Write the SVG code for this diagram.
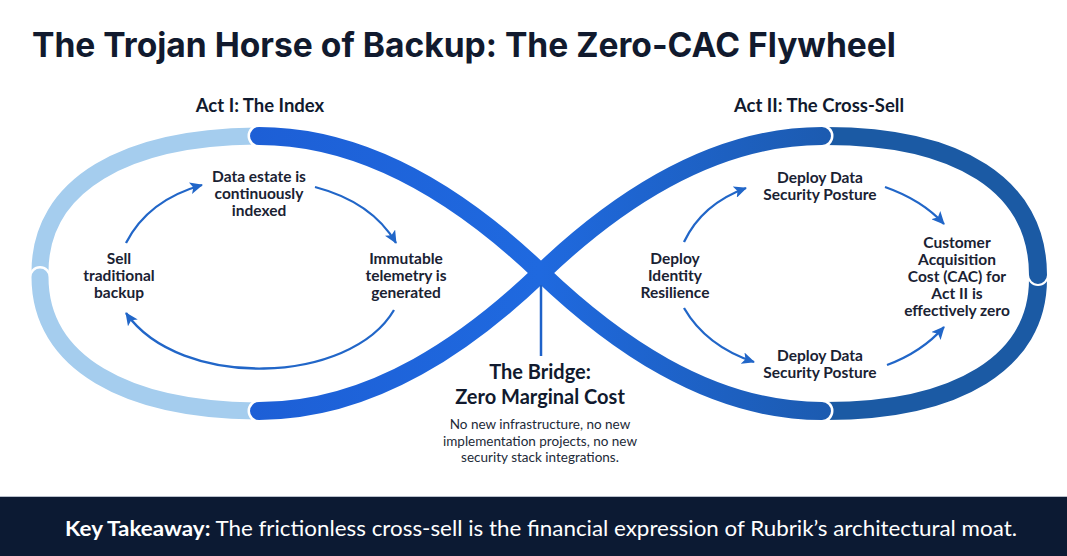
<svg xmlns="http://www.w3.org/2000/svg" width="1067" height="556" viewBox="0 0 1067 556">
<defs>
<style>
.title{font-family:Inter,"Liberation Sans",sans-serif;font-weight:700;font-size:33.6px;fill:#111a2e}
.act{font-family:Lato,"Liberation Sans",sans-serif;font-weight:700;font-size:18.5px;fill:#111a2e;text-anchor:middle}
.lbl{font-family:Lato,"Liberation Sans",sans-serif;font-weight:700;font-size:15.5px;fill:#1a2233;text-anchor:middle}
.bridge{font-family:Lato,"Liberation Sans",sans-serif;font-weight:700;font-size:20px;fill:#111a2e;text-anchor:middle}
.small{font-family:Lato,"Liberation Sans",sans-serif;font-size:13.5px;fill:#222a38;text-anchor:middle}
.foot{font-family:Lato,"Liberation Sans",sans-serif;font-size:21.5px;fill:#ffffff;text-anchor:middle}
.arr{fill:none;stroke:#2166c8;stroke-width:2.3;marker-end:url(#ah)}
.light{fill:none;stroke:#a5cdee;stroke-width:17}
.right{fill:none;stroke:#1b5aa4;stroke-width:18}
.main{fill:none;stroke:url(#g);stroke-width:18;stroke-linecap:round}
</style>
<linearGradient id="g" gradientUnits="userSpaceOnUse" x1="250" y1="0" x2="830" y2="0">
<stop offset="0" stop-color="#1d5fd6"/>
<stop offset="0.5" stop-color="#1f69df"/>
<stop offset="1" stop-color="#1c5bb0"/>
</linearGradient>
<marker id="ah" markerUnits="userSpaceOnUse" markerWidth="14" markerHeight="12" refX="12" refY="6" orient="auto">
<path d="M0,0 L13,6 L0,12 L3,6 Z" fill="#2166c8"/>
</marker>
</defs>
<rect width="1067" height="556" fill="#ffffff"/>
<text class="title" x="32" y="57">The Trojan Horse of Backup: The Zero-CAC Flywheel</text>

<g id="loop">
<path class="light" d="M262,136 C125,136 40,185 40,272"/>
<circle cx="40" cy="277" r="11" fill="#ffffff"/>
<path class="light" d="M40,277 C40,362 125,411 262,411" stroke-linecap="round"/>
<path class="right" d="M826,411 C958,411 1038,362 1038,279"/>
<circle cx="1038" cy="275" r="11" fill="#ffffff"/>
<path class="right" d="M826,136 C958,136 1038,185 1038,275" stroke-linecap="round"/>
<circle cx="259" cy="136" r="11.5" fill="#ffffff"/>
<circle cx="259" cy="411" r="11.5" fill="#ffffff"/>
<circle cx="822" cy="136" r="11.5" fill="#ffffff"/>
<circle cx="822" cy="411" r="11.5" fill="#ffffff"/>
<path class="main" d="M259,136 C375,136 472,207 541,273 C610,339 707,411 822,411"/>
<path class="main" d="M259,411 C375,411 472,339 541,273 C610,207 707,136 822,136"/>
<line x1="541" y1="285" x2="541" y2="356" stroke="#1f62c9" stroke-width="2.5"/>
</g>

<g id="act1-title"><text class="act" x="260" y="112">Act I: The Index</text></g>
<g id="act2-title"><text class="act" x="819" y="112">Act II: The Cross-Sell</text></g>

<g id="node-indexed"><text class="lbl" x="259" y="182">Data estate is<tspan x="259" dy="17">continuously</tspan><tspan x="259" dy="17">indexed</tspan></text></g>
<g id="node-sell"><text class="lbl" x="119" y="264">Sell<tspan x="119" dy="17">traditional</tspan><tspan x="119" dy="17">backup</tspan></text></g>
<g id="node-telemetry"><text class="lbl" x="406" y="264">Immutable<tspan x="406" dy="17">telemetry is</tspan><tspan x="406" dy="17">generated</tspan></text></g>

<g id="node-dspm-top"><text class="lbl" x="820" y="183">Deploy Data<tspan x="820" dy="17">Security Posture</tspan></text></g>
<g id="node-identity"><text class="lbl" x="675" y="264">Deploy<tspan x="675" dy="17">Identity</tspan><tspan x="675" dy="17">Resilience</tspan></text></g>
<g id="node-dspm-bottom"><text class="lbl" x="820" y="361">Deploy Data<tspan x="820" dy="17">Security Posture</tspan></text></g>
<g id="node-cac"><text class="lbl" x="957" y="248">Customer<tspan x="957" dy="17">Acquisition</tspan><tspan x="957" dy="17">Cost (CAC) for</tspan><tspan x="957" dy="17">Act II is</tspan><tspan x="957" dy="17">effectively zero</tspan></text></g>

<g id="bridge">
<text class="bridge" x="540" y="379">The Bridge:</text>
<text class="bridge" x="540" y="404">Zero Marginal Cost</text>
<text class="small" x="540" y="429">No new infrastructure, no new</text>
<text class="small" x="540" y="446">implementation projects, no new</text>
<text class="small" x="540" y="462">security stack integrations.</text>
</g>

<g id="connectors">
<path class="arr" d="M126,243 Q148,200 202,185"/>
<path class="arr" d="M315,187 Q372,202 396,243"/>
<path class="arr" d="M394,310 C350,385 180,390 126,313"/>
<path class="arr" d="M684,242 Q702,204 746,188"/>
<path class="arr" d="M885,187 Q922,200 944,224"/>
<path class="arr" d="M684,308 Q706,346 754,362"/>
<path class="arr" d="M887,365 Q922,352 944,327"/>
</g>

<g id="footer">
<rect x="0" y="497" width="1067" height="59" fill="#0c1a33"/>
<line x1="0" y1="496.5" x2="1067" y2="496.5" stroke="#b9c0cc" stroke-width="1"/>
<text class="foot" x="541" y="536" textLength="952" lengthAdjust="spacingAndGlyphs"><tspan font-weight="700">Key Takeaway:</tspan> The frictionless cross-sell is the financial expression of Rubrik’s architectural moat.</text>
</g>
</svg>
